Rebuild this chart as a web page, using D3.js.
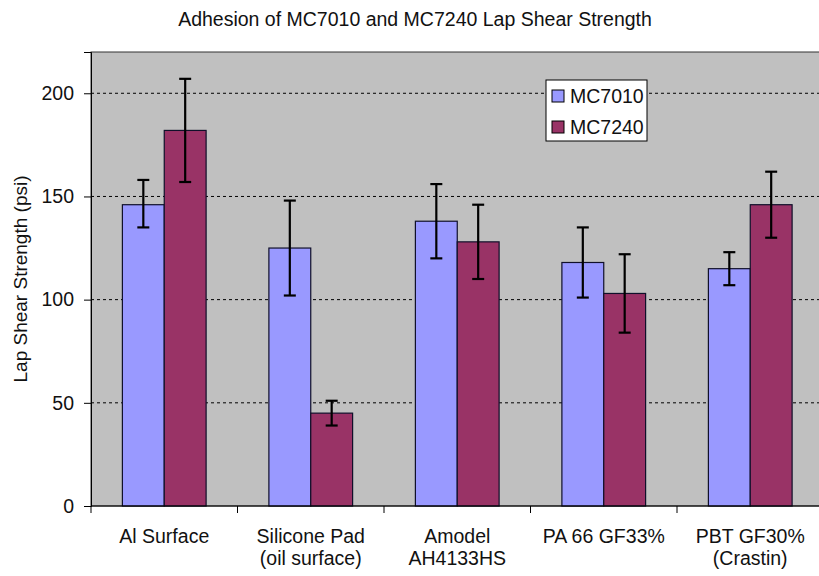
<!DOCTYPE html>
<html>
<head>
<meta charset="utf-8">
<script src="https://cdn.jsdelivr.net/npm/d3@7"></script>
<style>
	body { margin: 0; background: #fff; }
	text { font-family: 'Liberation Sans', Arial, sans-serif; fill: #111; }
</style>
</head>
<body>
<div class="svg-container"></div>
<script>
const w = 819;
const h = 576;

// data
const categories = ['Al Surface', 'Silicone Pad|(oil surface)', 'Amodel|AH4133HS', 'PA 66 GF33%', 'PBT GF30%|(Crastin)'];
const series = ['MC7010', 'MC7240'];
const mc7010 = [146, 125, 138, 118, 115];
const mc7010Hi = [158, 148, 156, 135, 123];
const mc7010Lo = [135, 102, 120, 101, 107];
const mc7240 = [182, 45, 128, 103, 146];
const mc7240Hi = [207, 51, 146, 122, 162];
const mc7240Lo = [157, 39, 110, 84, 130];
const yTicks = [0, 50, 100, 150, 200];
const colors = ['#9999ff', '#993366'];

const plotLeft = 91;
const plotRight = 823.5;
const plotTop = 52;
const plotBottom = 506;
const fs = 19.5;

const svg = d3
	.select('.svg-container')
	.append('svg')
	.attr('width', w)
	.attr('height', h);

svg
	.append('text')
	.attr('x', 415)
	.attr('y', 26)
	.style('text-anchor', 'middle')
	.style('font-size', fs)
	.text('Adhesion of MC7010 and MC7240 Lap Shear Strength');

const x0 = d3.scaleBand().domain(categories).range([plotLeft, plotRight]);
const bw = x0.bandwidth();
const gap = (bw * 0.75) / 3.5;
const x1 = d3.scaleBand().domain(series).range([gap, bw - gap]);
const y = d3.scaleLinear().domain([0, 220]).range([plotBottom, plotTop]);

svg
	.append('rect')
	.attr('x', plotLeft)
	.attr('y', plotTop)
	.attr('width', plotRight - plotLeft)
	.attr('height', plotBottom - plotTop)
	.attr('fill', '#c0c0c0')
	.attr('stroke', '#333')
	.attr('stroke-width', 1);

// dashed gridlines
svg
	.append('g')
	.selectAll('line')
	.data(yTicks.filter(d => d > 0))
	.enter()
	.append('line')
	.attr('x1', plotLeft)
	.attr('x2', plotRight)
	.attr('y1', d => y(d))
	.attr('y2', d => y(d))
	.attr('stroke', '#000')
	.attr('stroke-width', 1)
	.attr('stroke-dasharray', '3,3');

const rows = [];
categories.forEach((c, i) => {
	rows.push({cat: c, s: 0, v: mc7010[i], hi: mc7010Hi[i], lo: mc7010Lo[i]});
	rows.push({cat: c, s: 1, v: mc7240[i], hi: mc7240Hi[i], lo: mc7240Lo[i]});
});

svg
	.append('g')
	.selectAll('rect')
	.data(rows)
	.enter()
	.append('rect')
	.attr('x', d => x0(d.cat) + x1(series[d.s]))
	.attr('y', d => y(d.v))
	.attr('width', x1.bandwidth())
	.attr('height', d => y(0) - y(d.v))
	.attr('fill', d => colors[d.s])
	.attr('stroke', '#10102a')
	.attr('stroke-width', 1.2);

// error bars
const err = svg.append('g').attr('stroke', '#000').attr('stroke-width', 2.2);
rows.forEach(d => {
	const cx = x0(d.cat) + x1(series[d.s]) + x1.bandwidth() / 2;
	err.append('line').attr('x1', cx).attr('x2', cx).attr('y1', y(d.hi)).attr('y2', y(d.lo));
	err.append('line').attr('x1', cx - 6).attr('x2', cx + 6).attr('y1', y(d.hi)).attr('y2', y(d.hi));
	err.append('line').attr('x1', cx - 6).attr('x2', cx + 6).attr('y1', y(d.lo)).attr('y2', y(d.lo));
});

const yAxis = d3.axisLeft(y).tickValues(yTicks).tickSize(7).tickPadding(10);
const yG = svg.append('g').attr('transform', `translate(${plotLeft}, 0)`).call(yAxis);
yG.select('.domain').attr('stroke', '#000');
yG.selectAll('text').style('font-size', fs).attr('font-family', 'Liberation Sans, Arial, sans-serif').attr('fill', '#111');

// x axis line and boundary ticks
svg
	.append('line')
	.attr('x1', plotLeft)
	.attr('x2', plotRight)
	.attr('y1', plotBottom)
	.attr('y2', plotBottom)
	.attr('stroke', '#000');

svg
	.append('g')
	.selectAll('line')
	.data(categories)
	.enter()
	.append('line')
	.attr('x1', d => x0(d))
	.attr('x2', d => x0(d))
	.attr('y1', plotBottom)
	.attr('y2', plotBottom + 7)
	.attr('stroke', '#000');

const labels = svg
	.append('g')
	.selectAll('text')
	.data(categories)
	.enter()
	.append('text')
	.attr('x', d => x0(d) + bw / 2)
	.attr('y', 543)
	.style('text-anchor', 'middle')
	.style('font-size', fs);
labels.each(function (d) {
	const parts = d.split('|');
	parts.forEach((p, i) => {
		d3.select(this)
			.append('tspan')
			.attr('x', x0(d) + bw / 2)
			.attr('dy', i === 0 ? 0 : 22)
			.text(p);
	});
});

svg
	.append('text')
	.attr('transform', `translate(27, ${(plotTop + plotBottom) / 2}) rotate(-90)`)
	.style('text-anchor', 'middle')
	.style('font-size', 19)
	.text('Lap Shear Strength (psi)');

// legend
const legend = svg.append('g').attr('transform', 'translate(546, 80)');
legend
	.append('rect')
	.attr('width', 101)
	.attr('height', 61)
	.attr('fill', '#fff')
	.attr('stroke', '#000');
series.forEach((s, i) => {
	legend
		.append('rect')
		.attr('x', 6)
		.attr('y', 10 + i * 31)
		.attr('width', 12)
		.attr('height', 12)
		.attr('fill', colors[i])
		.attr('stroke', '#000');
	legend
		.append('text')
		.attr('x', 24)
		.attr('y', 23 + i * 31)
		.style('font-size', fs)
		.text(s);
});
</script>
</body>
</html>
